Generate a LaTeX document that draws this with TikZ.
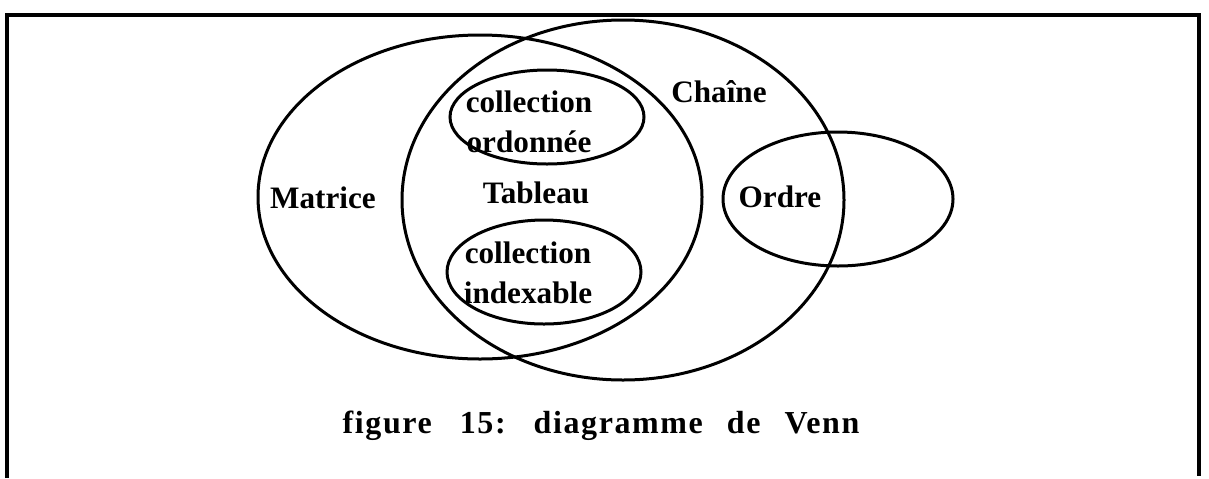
\documentclass[tikz,border=0pt]{standalone}
\usepackage{fontspec}
\setmainfont{Liberation Serif}
\newfontfamily\legendfont[LetterSpace=5]{Liberation Serif}
\usepackage{tikz}

\begin{document}
\begin{tikzpicture}[x=0.5pt,y=-0.5pt,
    set/.style={black, line width=1.5pt},
    lab/.style={anchor=base, inner sep=0pt, font=\bfseries\fontsize{15.6}{20}\selectfont},
    ]
    \useasboundingbox (0,0) rectangle (1209,478);
    % cadre
    \draw[black, line width=1.6pt] (7,478) -- (7,15) -- (1199,15) -- (1199,476);
    % ensembles
    \draw[set] (480,197) ellipse [x radius=222, y radius=162];
    \draw[set] (623,200) ellipse [x radius=221, y radius=180];
    \draw[set] (547,117) ellipse [x radius=97, y radius=47];
    \draw[set] (544,272) ellipse [x radius=97, y radius=52];
    \draw[set] (838,199) ellipse [x radius=115, y radius=67];
    % noms
    \node[lab] (matrice) at (323,208) {Matrice};
    \node[lab] (tableau) at (536,203) {Tableau};
    \node[lab] (chaine) at (719,102) {Chaîne};
    \node[lab] (ordre) at (780,207) {Ordre};
    \node[lab, align=center] (ordonnee) at (529,152) {collection\\ordonnée};
    \node[lab, align=center] (indexable) at (528,303) {collection\\indexable};
    \node[anchor=base, inner sep=0pt, font=\legendfont\bfseries\fontsize{16}{18}\selectfont] (legende) at (601,433)
        {figure\hspace{14pt}15:\hspace{14pt}diagramme\hspace{12pt}de\hspace{12pt}Venn};
\end{tikzpicture}
\end{document}
